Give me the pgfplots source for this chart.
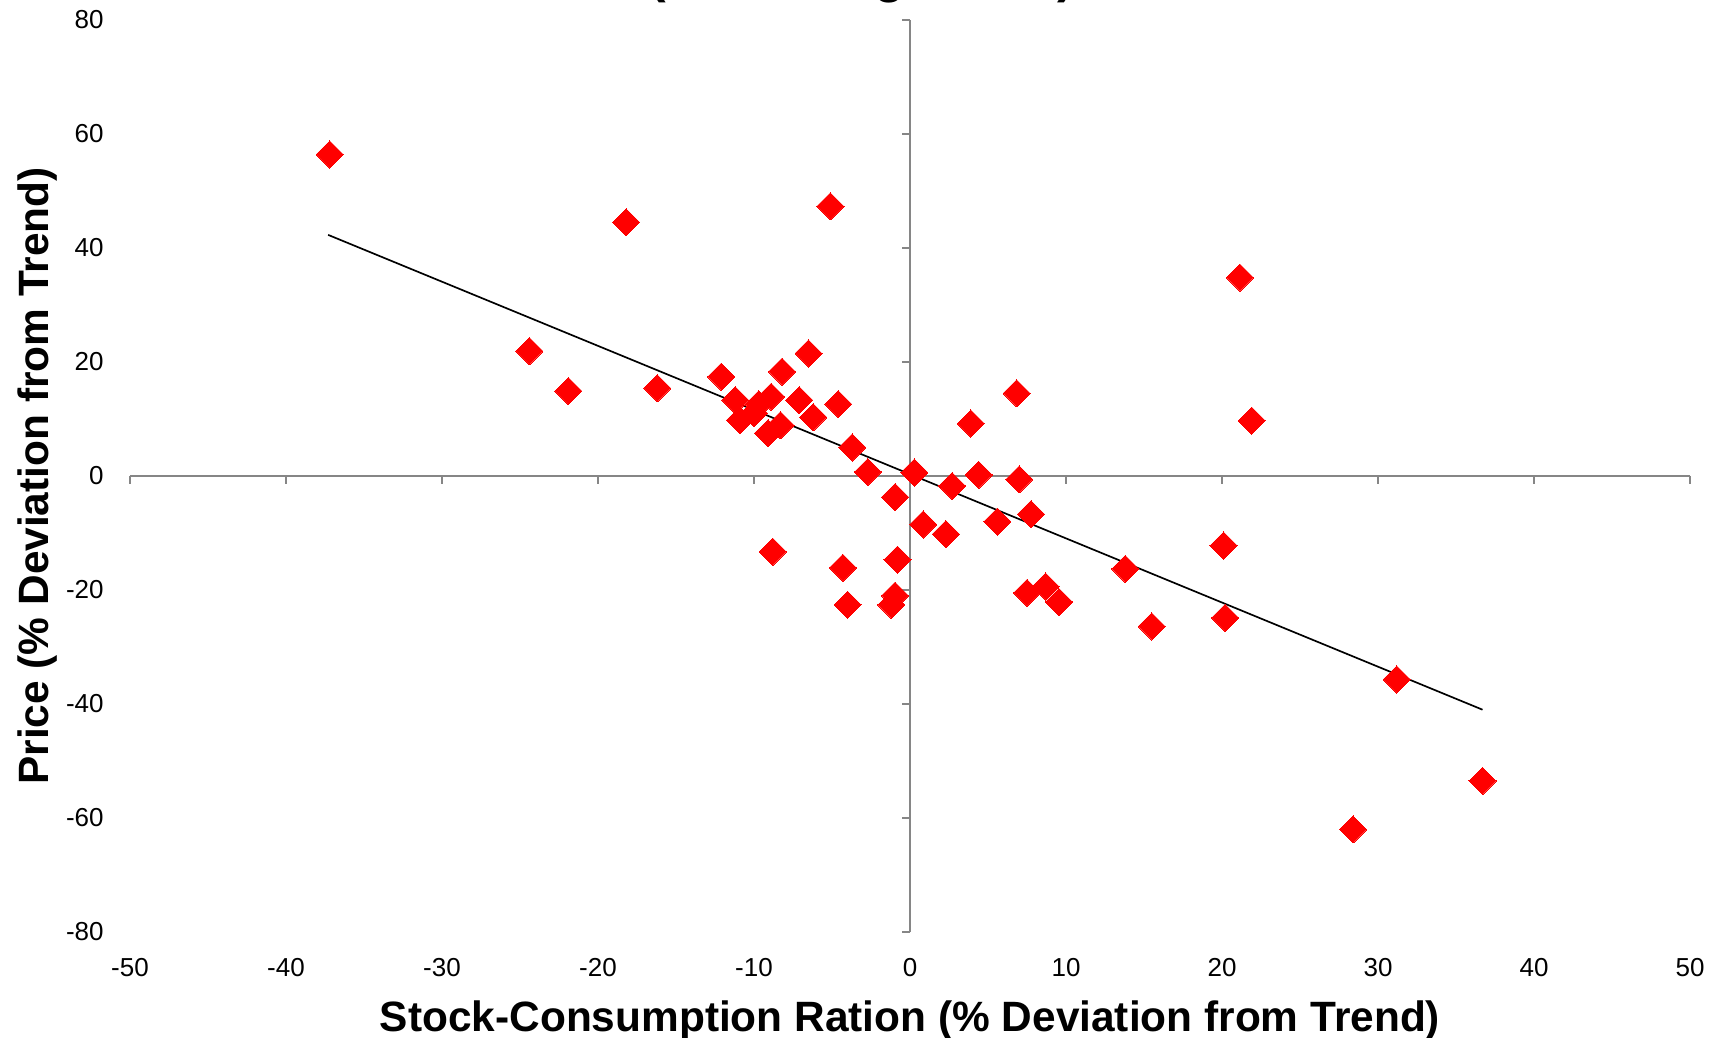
\documentclass[border=0pt]{standalone}
\usepackage{fontspec}
\setmainfont{Liberation Sans}
\usepackage{pgfplots}
\pgfplotsset{compat=1.18}
\definecolor{axisgray}{RGB}{134,134,134}
\definecolor{markred}{RGB}{255,0,0}

\begin{document}
\begin{tikzpicture}
\begin{axis}[
  at={(0pt,0pt)}, anchor=south west,
  scale only axis, width=390pt, height=228pt,
  xmin=-50, xmax=50, ymin=-80, ymax=80,
  axis line style={draw=none},
  tick style={draw=none}, major tick length=0pt,
  xtick={-50,-40,...,50},
  xticklabels={-50,-40,-30,-20,-10,0,10,20,30,40,50},
  ytick={-80,-60,...,80},
  yticklabels={-80,-60,-40,-20,0,20,40,60,80},
  xticklabel style={font=\fontsize{6.5}{7.5}\selectfont, inner sep=0pt, anchor=north, yshift=-6.5pt},
  yticklabel style={font=\fontsize{6.5}{7.5}\selectfont, inner sep=0pt, anchor=east, xshift=-6.4pt},
  xlabel={Stock-Consumption Ration (\% Deviation from Trend)},
  ylabel={Price (\% Deviation from Trend)},
  xlabel style={at={(axis description cs:0.5,-0.1086)}, anchor=base, inner sep=0pt,
    font=\fontsize{10.6}{12}\selectfont\bfseries},
  ylabel style={at={(axis description cs:-0.0523,0.5)}, rotate=0, anchor=base, inner sep=0pt,
    font=\fontsize{10.6}{12}\selectfont\bfseries},
  clip=false,
]
% axes crossing at the origin, with outward ticks
\draw[axisgray, line width=0.6pt] (axis cs:-50,0) -- (axis cs:50,0);
\draw[axisgray, line width=0.6pt] (axis cs:0,-80) -- (axis cs:0,80);
\pgfplotsinvokeforeach{-50,-40,...,50}{
  \draw[axisgray, line width=0.6pt] (axis cs:#1,0) -- ++(0pt,-2pt);
}
\pgfplotsinvokeforeach{-80,-60,...,80}{
  \draw[axisgray, line width=0.6pt] (axis cs:0,#1) -- ++(-2pt,0pt);
}

% annual observations
\addplot[only marks, mark=square*, mark size=2.4pt,
  mark options={rotate=45, fill=markred, draw=markred, line width=0pt}]
coordinates {
  (-37.2,56.4) (-18.2,44.5) (-5.1,47.3)
  (-24.4,21.9) (-21.9,14.9) (-16.2,15.4) (-12.1,17.4)
  (-6.5,21.5) (-8.2,18.3) (-11.2,13.3) (-9.7,12.6)
  (-8.9,13.9) (-7.1,13.3) (-4.6,12.6) (-6.2,10.3)
  (-10.9,9.8) (-10.0,11.0) (-9.1,7.5) (-8.3,8.9)
  (-3.7,5.0) (-2.7,0.7) (-0.96,-3.7) (0.28,0.6)
  (-8.8,-13.3) (-4.3,-16.1) (-4.0,-22.6) (-0.8,-14.7)
  (-0.96,-21.0) (-1.2,-22.6) (2.7,-1.75) (0.85,-8.5)
  (2.3,-10.2) (3.9,9.2) (4.4,0.2) (6.84,14.5)
  (7.0,-0.6) (5.6,-8.0) (7.76,-6.7) (7.5,-20.5)
  (8.7,-19.4) (9.55,-22.1) (13.8,-16.3) (15.5,-26.4)
  (20.1,-12.2) (20.2,-24.9) (21.15,34.8) (21.9,9.7)
  (31.2,-35.7) (28.4,-62.0) (36.7,-53.5)
};

% linear trend
\addplot[black, line width=0.42pt] coordinates {(-37.3,42.3) (36.7,-41.0)};
\end{axis}

% second title line (upper part lies above the page)
\node[anchor=base, inner sep=0pt, font=\fontsize{12.5}{14}\selectfont\bfseries]
  at (182.9pt,234.8pt) {(Excluding China)};

\pgfresetboundingbox
\useasboundingbox (-32.5pt,-26.5pt) rectangle (398.25pt,233pt);
\end{tikzpicture}
\end{document}
